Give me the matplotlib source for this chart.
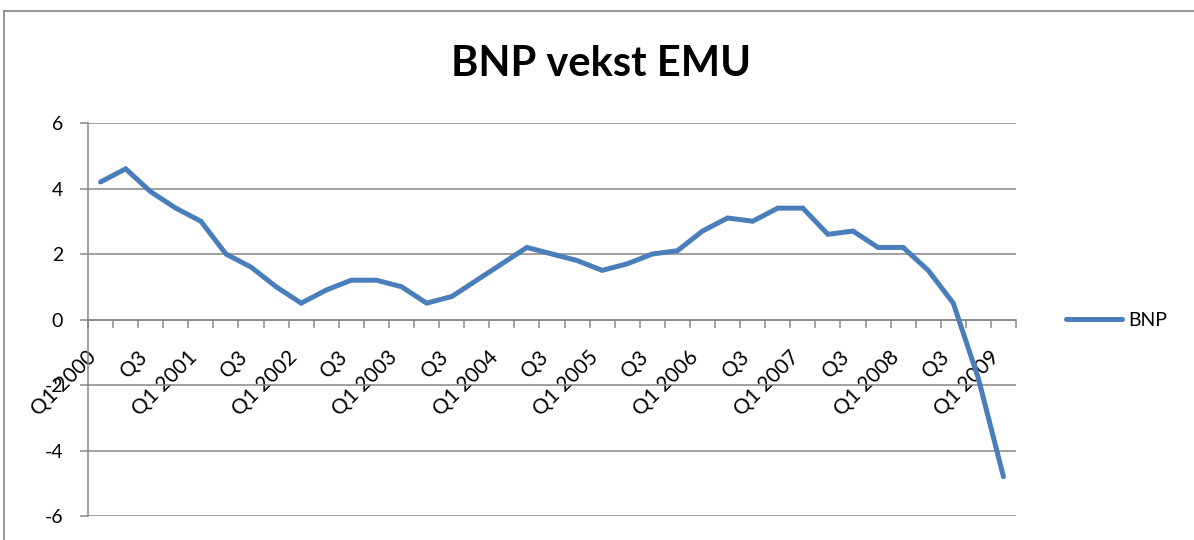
import matplotlib
matplotlib.use("Agg")
import matplotlib.pyplot as plt
from matplotlib.lines import Line2D
import numpy as np

# BNP-vekst EMU, kvartalsvis Q1 2000 - Q1 2009 (lest av figuren)
bnp = [4.2, 4.6, 3.9, 3.4, 3.0, 2.0, 1.6, 1.0, 0.5, 0.9,
       1.2, 1.2, 1.0, 0.5, 0.7, 1.2, 1.7, 2.2, 2.0, 1.8,
       1.5, 1.7, 2.0, 2.1, 2.7, 3.1, 3.0, 3.4, 3.4, 2.6,
       2.7, 2.2, 2.2, 1.5, 0.5, -1.8, -4.8]
# bare annenhver kategori er merket i originalen
tick_labels = ["Q1 2000", "Q3", "Q1 2001", "Q3", "Q1 2002", "Q3", "Q1 2003", "Q3",
               "Q1 2004", "Q3", "Q1 2005", "Q3", "Q1 2006", "Q3", "Q1 2007", "Q3",
               "Q1 2008", "Q3", "Q1 2009"]
y_ticks = [-6, -4, -2, 0, 2, 4, 6]

BLUE = "#4a7ebb"
GRID = "#868686"

plt.rcParams["font.family"] = "Lato"
plt.rcParams["axes.unicode_minus"] = False

fig = plt.figure(figsize=(11.94, 5.40), dpi=100)
ax = fig.add_axes([88 / 1194, 1 - 516 / 540, (1016 - 88) / 1194, (516 - 123) / 540])

x = np.arange(len(bnp))
ax.plot(x, bnp, color=BLUE, lw=3.6, solid_capstyle="round", solid_joinstyle="miter",
        zorder=3, label="BNP")

ax.set_xlim(-0.5, len(bnp) - 0.5)
ax.set_ylim(-6, 6)
ax.set_yticks(y_ticks)
ax.yaxis.grid(True, color=GRID, lw=1.1)
ax.set_axisbelow(True)

for s in ("top", "right"):
    ax.spines[s].set_visible(False)
ax.spines["left"].set_color(GRID)
ax.spines["left"].set_linewidth(1.1)
ax.spines["bottom"].set_position(("data", 0))
ax.spines["bottom"].set_color(GRID)
ax.spines["bottom"].set_linewidth(1.1)

ax.tick_params(axis="y", direction="out", length=6, width=1.1, color=GRID,
               labelsize=14, pad=12)
# kategorigrenser = tickmerker, etiketter midt i kategorien
ax.set_xticks(np.arange(-0.5, len(bnp)), minor=True)
ax.tick_params(axis="x", which="minor", direction="out", length=6, width=1.1, color=GRID)
ax.set_xticks(x[::2], tick_labels)
ax.tick_params(axis="x", which="major", length=0, labelsize=15, pad=20,
               labelrotation=45)
for lbl in ax.get_xticklabels():
    lbl.set_ha("right")
    lbl.set_va("top")
    lbl.set_rotation_mode("default")

fig.text(0.503, 0.882, "BNP vekst EMU", ha="center", va="center",
         fontsize=30, fontweight="bold")

fig.legend(handles=[Line2D([], [], color=BLUE, lw=3.6, solid_capstyle="round")],
           labels=["BNP"], loc="center left", bbox_to_anchor=(1048 / 1194, 1 - 320 / 540),
           frameon=False, fontsize=14, handlelength=2.9, handletextpad=0.35)

# ramme rundt diagrammet (venstre og topp synlig)
fig.add_artist(Line2D([3.5 / 1194, 3.5 / 1194], [0, 1 - 10.5 / 540],
                      transform=fig.transFigure, color=GRID, lw=1.2))
fig.add_artist(Line2D([3.5 / 1194, 1], [1 - 10.5 / 540, 1 - 10.5 / 540],
                      transform=fig.transFigure, color=GRID, lw=1.2))

fig.savefig("out.png", dpi=100)
